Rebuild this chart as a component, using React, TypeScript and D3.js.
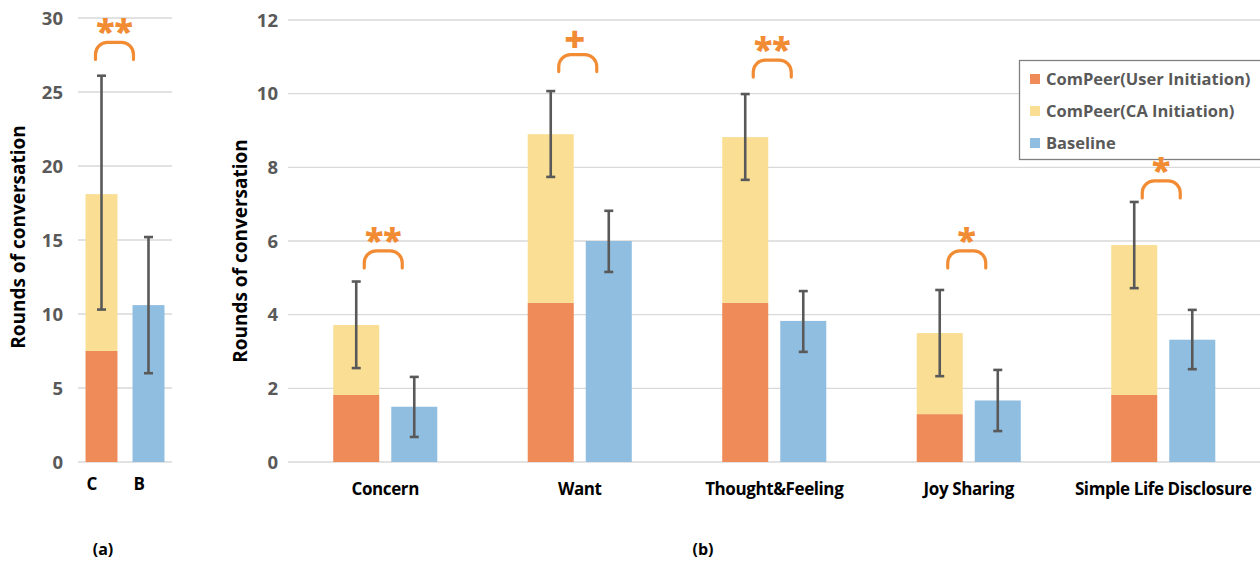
import React from "react";
import * as d3 from "d3";

// ---- data ----
const overallGroups = ["C", "B"];
const overallUser = 7.5;
const overallCA = 10.6; // stacked on top of user-initiated rounds
const overallBaseline = 10.6;
const overallErrCompeer = [10.3, 26.1];
const overallErrBaseline = [6.0, 15.2];
const overallSig = "**";
const overallSigLevel = 27.2;

const categories = ["Concern", "Want", "Thought&Feeling", "Joy Sharing", "Simple Life Disclosure"];
const userInitiation = [1.82, 4.32, 4.32, 1.3, 1.82];
const caInitiation = [1.9, 4.58, 4.5, 2.2, 4.07];
const baseline = [1.5, 6.0, 3.83, 1.67, 3.32];
const compeerErrLow = [2.55, 7.74, 7.66, 2.33, 4.72];
const compeerErrHigh = [4.9, 10.07, 9.99, 4.67, 7.06];
const baselineErrLow = [0.68, 5.16, 2.99, 0.84, 2.52];
const baselineErrHigh = [2.31, 6.82, 4.64, 2.5, 4.13];
const sigLabels = ["**", "+", "**", "*", "*"];
const sigLevels = [5.27, 10.6, 10.45, 5.27, 7.17];

const leftTicks = [0, 5, 10, 15, 20, 25, 30];
const rightTicks = [0, 2, 4, 6, 8, 10, 12];

const legendItems = ["ComPeer(User Initiation)", "ComPeer(CA Initiation)", "Baseline"];

// ---- style ----
const C_USER = "#EF8B59";
const C_CA = "#F9DE93";
const C_BASE = "#90BEE0";
const C_ERR = "#595959";
const C_SIG = "#F28C34";
const C_GRID = "#D9D9D9";
const FONT = "'Open Sans', 'DejaVu Sans', sans-serif";

const W = 1260;
const H = 561;

function ErrorBar({ x, y0, y1 }: { x: number; y0: number; y1: number }) {
  const cap = 4.5;
  return (
    <g stroke={C_ERR} strokeWidth={2.6}>
      <line x1={x} x2={x} y1={y0} y2={y1} />
      <line x1={x - cap} x2={x + cap} y1={y0} y2={y0} />
      <line x1={x - cap} x2={x + cap} y1={y1} y2={y1} />
    </g>
  );
}

function SigMark({ cx, bottom, label }: { cx: number; bottom: number; label: string }) {
  const half = 19;
  const h = 17;
  const r = 12;
  const top = bottom - h;
  const x0 = cx - half;
  const x1 = cx + half;
  const d = `M${x0},${bottom} L${x0},${top + r} A${r},${r} 0 0 1 ${x0 + r},${top} L${x1 - r},${top} A${r},${r} 0 0 1 ${x1},${top + r} L${x1},${bottom}`;
  const isPlus = label === "+";
  return (
    <g>
      <path d={d} fill="none" stroke={C_SIG} strokeWidth={3.2} strokeLinecap="round" />
      <text
        x={isPlus ? cx - 3 : cx}
        y={isPlus ? top - 3 : top + 2}
        textAnchor="middle"
        fill={C_SIG}
        fontFamily={FONT}
        fontWeight={800}
        fontSize={isPlus ? 36 : 34}
      >
        {label}
      </text>
    </g>
  );
}

export default function App() {
  // left panel (a)
  const yL = d3.scaleLinear().domain([0, 30]).range([462, 18]);
  const xL = d3.scaleBand<string>().domain(overallGroups).range([78, 172]).paddingInner(0.32).paddingOuter(0.16);

  // right panel (b)
  const yR = d3.scaleLinear().domain([0, 12]).range([462, 20]);
  const xR = d3.scaleBand<string>().domain(categories).range([288, 1260.5]).paddingInner(0.465).paddingOuter(0.2325);
  const xInner = d3.scaleBand<string>().domain(["compeer", "baseline"]).range([0, xR.bandwidth()]).paddingInner(0.207);

  const cX = xL("C")!;
  const bX = xL("B")!;
  const bwL = xL.bandwidth();

  return (
    <svg width={W} height={H} style={{ position: "absolute", left: 0, top: 0, background: "#fff" }}>
      {/* ---------- panel (a) ---------- */}
      <g>
        {leftTicks.map((t) => (
          <g key={t}>
            <line x1={78} x2={172} y1={yL(t)} y2={yL(t)} stroke={C_GRID} strokeWidth={1.3} />
            <text x={63} y={yL(t)} dy="0.36em" textAnchor="end" fill="#595959" fontFamily={FONT} fontWeight={700} fontSize={18.5}>
              {t}
            </text>
          </g>
        ))}
        <rect x={cX} width={bwL} y={yL(overallUser)} height={yL(0) - yL(overallUser)} fill={C_USER} />
        <rect
          x={cX}
          width={bwL}
          y={yL(overallUser + overallCA)}
          height={yL(overallUser) - yL(overallUser + overallCA)}
          fill={C_CA}
        />
        <rect x={bX} width={bwL} y={yL(overallBaseline)} height={yL(0) - yL(overallBaseline)} fill={C_BASE} />
        <ErrorBar x={cX + bwL / 2} y0={yL(overallErrCompeer[0])} y1={yL(overallErrCompeer[1])} />
        <ErrorBar x={bX + bwL / 2} y0={yL(overallErrBaseline[0])} y1={yL(overallErrBaseline[1])} />
        <SigMark cx={cX + bwL - 3} bottom={yL(overallSigLevel)} label={overallSig} />
        {overallGroups.map((g) => (
          <text key={g} x={xL(g)! + 1} y={484} dy="0.36em" textAnchor="start" fill="#000" fontFamily={FONT} fontWeight={700} fontSize={17}>
            {g}
          </text>
        ))}
        <text
          transform={`translate(18,${yL(15) - 3}) rotate(-90)`}
          textAnchor="middle"
          dy="0.36em"
          fill="#000"
          fontFamily={FONT}
          fontWeight={700}
          fontSize={19}
        >
          Rounds of conversation
        </text>
        <text x={103} y={549} dy="0.36em" textAnchor="middle" fill="#000" fontFamily={FONT} fontWeight={700} fontSize={16}>
          (a)
        </text>
      </g>

      {/* ---------- panel (b) ---------- */}
      <g>
        {rightTicks.map((t) => (
          <g key={t}>
            <line x1={288} x2={W} y1={yR(t)} y2={yR(t)} stroke={C_GRID} strokeWidth={1.3} />
            <text x={278} y={yR(t)} dy="0.36em" textAnchor="end" fill="#595959" fontFamily={FONT} fontWeight={700} fontSize={18.5}>
              {t}
            </text>
          </g>
        ))}

        {/* legend */}
        <g>
          <rect x={1019.5} y={60.5} width={250} height={99} fill="#fff" stroke="#808080" strokeWidth={1.3} />
          {legendItems.map((item, i) => (
            <g key={item} transform={`translate(0,${79 + i * 32})`}>
              <rect x={1030} y={-5} width={10} height={10} fill={[C_USER, C_CA, C_BASE][i]} />
              <text x={1046} y={0} dy="0.36em" fill="#595959" fontFamily={FONT} fontWeight={700} fontSize={16.5}>
                {item}
              </text>
            </g>
          ))}
        </g>

        {categories.map((c, i) => {
          const x0 = xR(c)!;
          const xc = x0 + xInner("compeer")!;
          const xb = x0 + xInner("baseline")!;
          const bw = xInner.bandwidth();
          const total = userInitiation[i] + caInitiation[i];
          return (
            <g key={c}>
              <rect x={xc} width={bw} y={yR(userInitiation[i])} height={yR(0) - yR(userInitiation[i])} fill={C_USER} />
              <rect x={xc} width={bw} y={yR(total)} height={yR(userInitiation[i]) - yR(total)} fill={C_CA} />
              <rect x={xb} width={bw} y={yR(baseline[i])} height={yR(0) - yR(baseline[i])} fill={C_BASE} />
              <ErrorBar x={xc + bw / 2} y0={yR(compeerErrLow[i])} y1={yR(compeerErrHigh[i])} />
              <ErrorBar x={xb + bw / 2} y0={yR(baselineErrLow[i])} y1={yR(baselineErrHigh[i])} />
              <SigMark cx={x0 + xR.bandwidth() / 2 - 2} bottom={yR(sigLevels[i])} label={sigLabels[i]} />
              <text
                x={x0 + xR.bandwidth() / 2}
                y={489}
                dy="0.36em"
                textAnchor="middle"
                fill="#000"
                fontFamily={FONT}
                fontWeight={700}
                fontSize={17}
                letterSpacing={-0.4}
              >
                {c}
              </text>
            </g>
          );
        })}
        <text
          transform={`translate(240,${yR(6) + 10}) rotate(-90)`}
          textAnchor="middle"
          dy="0.36em"
          fill="#000"
          fontFamily={FONT}
          fontWeight={700}
          fontSize={19}
        >
          Rounds of conversation
        </text>
        <text x={703} y={549} dy="0.36em" textAnchor="middle" fill="#000" fontFamily={FONT} fontWeight={700} fontSize={16}>
          (b)
        </text>
      </g>
    </svg>
  );
}
